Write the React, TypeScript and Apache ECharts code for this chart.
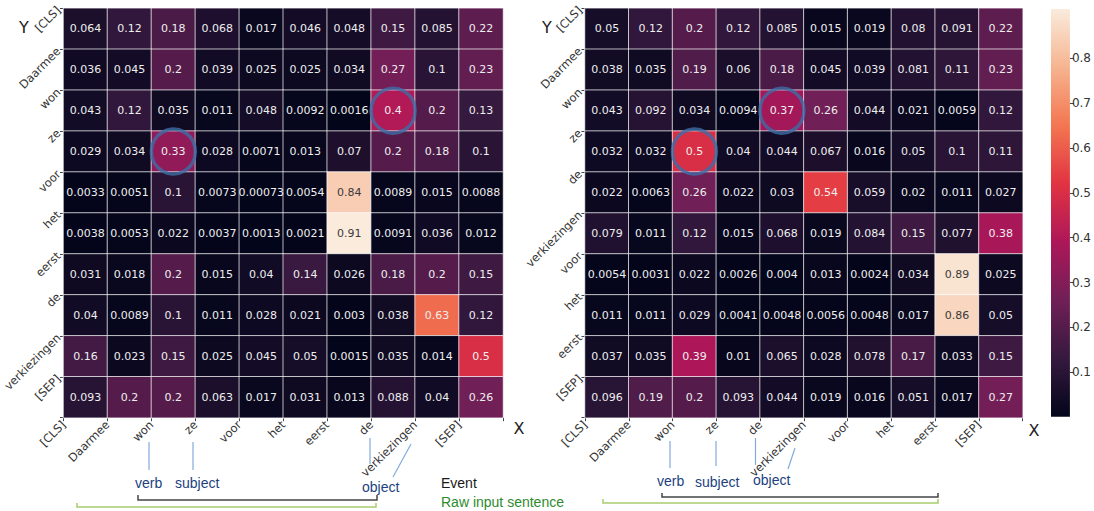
import React, { useEffect, useRef } from "react";
import * as echarts from "echarts";

const LEFT_TOKENS = ["[CLS]", "Daarmee", "won", "ze", "voor", "het", "eerst", "de", "verkiezingen", "[SEP]"];
const RIGHT_TOKENS = ["[CLS]", "Daarmee", "won", "ze", "de", "verkiezingen", "voor", "het", "eerst", "[SEP]"];

const LEFT_VALUES: number[][] = [
  [0.064, 0.12, 0.18, 0.068, 0.017, 0.046, 0.048, 0.15, 0.085, 0.22],
  [0.036, 0.045, 0.2, 0.039, 0.025, 0.025, 0.034, 0.27, 0.1, 0.23],
  [0.043, 0.12, 0.035, 0.011, 0.048, 0.0092, 0.0016, 0.4, 0.2, 0.13],
  [0.029, 0.034, 0.33, 0.028, 0.0071, 0.013, 0.07, 0.2, 0.18, 0.1],
  [0.0033, 0.0051, 0.1, 0.0073, 0.00073, 0.0054, 0.84, 0.0089, 0.015, 0.0088],
  [0.0038, 0.0053, 0.022, 0.0037, 0.0013, 0.0021, 0.91, 0.0091, 0.036, 0.012],
  [0.031, 0.018, 0.2, 0.015, 0.04, 0.14, 0.026, 0.18, 0.2, 0.15],
  [0.04, 0.0089, 0.1, 0.011, 0.028, 0.021, 0.003, 0.038, 0.63, 0.12],
  [0.16, 0.023, 0.15, 0.025, 0.045, 0.05, 0.0015, 0.035, 0.014, 0.5],
  [0.093, 0.2, 0.2, 0.063, 0.017, 0.031, 0.013, 0.088, 0.04, 0.26],
];

const RIGHT_VALUES: number[][] = [
  [0.05, 0.12, 0.2, 0.12, 0.085, 0.015, 0.019, 0.08, 0.091, 0.22],
  [0.038, 0.035, 0.19, 0.06, 0.18, 0.045, 0.039, 0.081, 0.11, 0.23],
  [0.043, 0.092, 0.034, 0.0094, 0.37, 0.26, 0.044, 0.021, 0.0059, 0.12],
  [0.032, 0.032, 0.5, 0.04, 0.044, 0.067, 0.016, 0.05, 0.1, 0.11],
  [0.022, 0.0063, 0.26, 0.022, 0.03, 0.54, 0.059, 0.02, 0.011, 0.027],
  [0.079, 0.011, 0.12, 0.015, 0.068, 0.019, 0.084, 0.15, 0.077, 0.38],
  [0.0054, 0.0031, 0.022, 0.0026, 0.004, 0.013, 0.0024, 0.034, 0.89, 0.025],
  [0.011, 0.011, 0.029, 0.0041, 0.0048, 0.0056, 0.0048, 0.017, 0.86, 0.05],
  [0.037, 0.035, 0.39, 0.01, 0.065, 0.028, 0.078, 0.17, 0.033, 0.15],
  [0.096, 0.19, 0.2, 0.093, 0.044, 0.019, 0.016, 0.051, 0.017, 0.27],
];

// circled cells: [column, row]
const LEFT_CIRCLES = [[7, 2], [2, 3]];
const RIGHT_CIRCLES = [[4, 2], [2, 3]];

const COLORBAR_TICKS = [0.1, 0.2, 0.3, 0.4, 0.5, 0.6, 0.7, 0.8];

const ROCKET = ["#03051A", "#35193E", "#701F57", "#AD1759", "#E13342", "#F37651", "#F6B48F", "#FAEBDD"];

const FONT = "DejaVu Sans";
const SANS = "Liberation Sans, Arial, sans-serif";

const allVals = [...LEFT_VALUES.flat(), ...RIGHT_VALUES.flat()];
const VMIN = Math.min(...allVals);
const VMAX = Math.max(...allVals);

function cells(m: number[][]) {
  const out: any[] = [];
  m.forEach((row, r) =>
    row.forEach((v, c) => {
      out.push({ value: [c, r, v], label: { color: v > 0.75 ? "#3a3a3a" : "#eeeeee" } });
    })
  );
  return out;
}

function labelXAxis(grid: number, tokens: string[]) {
  return {
    type: "category",
    gridIndex: grid,
    data: [...tokens, ""],
    boundaryGap: false,
    position: "bottom",
    axisLine: { show: false },
    axisTick: { show: true, length: 3.5, lineStyle: { color: "#444" } },
    axisLabel: { interval: 0, rotate: 45, fontSize: 11.5, fontFamily: FONT, color: "#333", margin: 5 },
    splitLine: { show: false },
  };
}
function labelYAxis(grid: number, tokens: string[]) {
  return {
    type: "category",
    gridIndex: grid,
    data: [...tokens, ""],
    boundaryGap: false,
    inverse: true,
    position: "left",
    axisLine: { show: false },
    axisTick: { show: true, length: 3.5, lineStyle: { color: "#444" } },
    axisLabel: { interval: 0, rotate: 45, fontSize: 11.5, fontFamily: FONT, color: "#333", margin: 5 },
    splitLine: { show: false },
  };
}

const blue = "#82aadc";
const navy = "#213f7e";

export default function App() {
  const ref = useRef<HTMLDivElement>(null);
  useEffect(() => {
    if (!ref.current) return;
    const chart = echarts.init(ref.current, null, { renderer: "svg" });
    const heatLabel = {
      show: true,
      fontSize: 11,
      fontFamily: FONT,
      formatter: (p: any) => String(p.value[2]),
    };
    const heatItem = { borderColor: "rgba(255,255,255,0.7)", borderWidth: 1 };
    const circleStyle = { color: "rgba(0,0,0,0)", borderColor: "#3d6da5", borderWidth: 3.5 };
    const option: any = {
      animation: false,
      backgroundColor: "#ffffff",
      grid: [
        { left: 62, top: 8.3, width: 441, height: 409.4 },
        { left: 585, top: 8.3, width: 437.7, height: 409.4 },
        { left: 1051, top: 9, width: 20, height: 407.7 },
      ],
      xAxis: [
        { type: "category", gridIndex: 0, data: LEFT_TOKENS, show: false },
        { type: "category", gridIndex: 1, data: RIGHT_TOKENS, show: false },
        labelXAxis(0, LEFT_TOKENS),
        labelXAxis(1, RIGHT_TOKENS),
        { type: "category", gridIndex: 2, data: [""], show: false },
      ],
      yAxis: [
        { type: "category", gridIndex: 0, data: LEFT_TOKENS, inverse: true, show: false },
        { type: "category", gridIndex: 1, data: RIGHT_TOKENS, inverse: true, show: false },
        labelYAxis(0, LEFT_TOKENS),
        labelYAxis(1, RIGHT_TOKENS),
        {
          type: "value",
          gridIndex: 2,
          min: VMIN,
          max: VMAX,
          position: "right",
          axisLine: { show: false },
          splitLine: { show: false },
          axisTick: { show: true, length: 4, customValues: COLORBAR_TICKS, lineStyle: { color: "#444" } },
          axisLabel: {
            customValues: COLORBAR_TICKS,
            formatter: (v: number) => v.toFixed(1),
            fontSize: 12,
            fontFamily: FONT,
            color: "#333",
            margin: 2,
          },
        },
      ],
      visualMap: {
        show: false,
        type: "continuous",
        min: VMIN,
        max: VMAX,
        dimension: 2,
        seriesIndex: [0, 1],
        inRange: { color: ROCKET },
      },
      series: [
        {
          type: "heatmap",
          xAxisIndex: 0,
          yAxisIndex: 0,
          data: cells(LEFT_VALUES),
          label: heatLabel,
          itemStyle: heatItem,
          emphasis: { disabled: true },
        },
        {
          type: "heatmap",
          xAxisIndex: 1,
          yAxisIndex: 1,
          data: cells(RIGHT_VALUES),
          label: heatLabel,
          itemStyle: heatItem,
          emphasis: { disabled: true },
        },
        {
          type: "scatter",
          xAxisIndex: 0,
          yAxisIndex: 0,
          data: LEFT_CIRCLES,
          symbol: "circle",
          symbolSize: [44, 45],
          itemStyle: circleStyle,
          silent: true,
          z: 5,
        },
        {
          type: "scatter",
          xAxisIndex: 1,
          yAxisIndex: 1,
          data: RIGHT_CIRCLES,
          symbol: "circle",
          symbolSize: [44, 45],
          itemStyle: circleStyle,
          silent: true,
          z: 5,
        },
        {
          type: "custom",
          xAxisIndex: 4,
          yAxisIndex: 4,
          data: [[0, VMAX]],
          silent: true,
          renderItem: (_params: any, api: any) => {
            const top = api.coord([0, VMAX]);
            const bot = api.coord([0, VMIN]);
            const w = api.size([1, 0])[0];
            return {
              type: "rect",
              shape: { x: top[0] - w / 2, y: top[1], width: w, height: bot[1] - top[1] },
              style: {
                fill: new echarts.graphic.LinearGradient(
                  0, 1, 0, 0,
                  ROCKET.map((c, i) => ({ offset: i / (ROCKET.length - 1), color: c }))
                ),
              },
            };
          },
        },
      ],
      graphic: [
        { type: "text", x: 24, y: 27, style: { text: "Y", font: `16px ${FONT}`, fill: "#222", align: "center", verticalAlign: "middle" } },
        { type: "text", x: 547, y: 27, style: { text: "Y", font: `16px ${FONT}`, fill: "#222", align: "center", verticalAlign: "middle" } },
        { type: "text", x: 519, y: 428, style: { text: "X", font: `16px ${FONT}`, fill: "#222", align: "center", verticalAlign: "middle" } },
        { type: "text", x: 1034, y: 430, style: { text: "X", font: `16px ${FONT}`, fill: "#222", align: "center", verticalAlign: "middle" } },
        // left pointer lines
        { type: "line", shape: { x1: 149, y1: 442, x2: 149, y2: 470 }, style: { stroke: blue, lineWidth: 1.2 } },
        { type: "line", shape: { x1: 193, y1: 442, x2: 193, y2: 470 }, style: { stroke: blue, lineWidth: 1.2 } },
        { type: "line", shape: { x1: 370, y1: 438, x2: 370, y2: 464 }, style: { stroke: blue, lineWidth: 1.2 } },
        { type: "line", shape: { x1: 411, y1: 444, x2: 393, y2: 477 }, style: { stroke: blue, lineWidth: 1.2 } },
        // right pointer lines
        { type: "line", shape: { x1: 670, y1: 441, x2: 670, y2: 468 }, style: { stroke: blue, lineWidth: 1.2 } },
        { type: "line", shape: { x1: 716, y1: 441, x2: 716, y2: 466 }, style: { stroke: blue, lineWidth: 1.2 } },
        { type: "line", shape: { x1: 755.5, y1: 438, x2: 755.5, y2: 465 }, style: { stroke: blue, lineWidth: 1.2 } },
        { type: "line", shape: { x1: 795, y1: 448, x2: 788, y2: 469 }, style: { stroke: blue, lineWidth: 1.2 } },
        // left texts
        { type: "text", x: 135, y: 483, style: { text: "verb", font: `14px ${SANS}`, fill: navy, verticalAlign: "middle" } },
        { type: "text", x: 175, y: 483, style: { text: "subject", font: `14px ${SANS}`, fill: navy, verticalAlign: "middle" } },
        { type: "text", x: 362, y: 487, style: { text: "object", font: `14px ${SANS}`, fill: navy, verticalAlign: "middle" } },
        { type: "text", x: 441, y: 483, style: { text: "Event", font: `14px ${SANS}`, fill: "#1a1a1a", verticalAlign: "middle" } },
        { type: "text", x: 441, y: 502, style: { text: "Raw input sentence", font: `14px ${SANS}`, fill: "#2e8b2e", verticalAlign: "middle" } },
        // right texts
        { type: "text", x: 657, y: 481, style: { text: "verb", font: `14px ${SANS}`, fill: navy, verticalAlign: "middle" } },
        { type: "text", x: 695, y: 482, style: { text: "subject", font: `14px ${SANS}`, fill: navy, verticalAlign: "middle" } },
        { type: "text", x: 753, y: 480, style: { text: "object", font: `14px ${SANS}`, fill: navy, verticalAlign: "middle" } },
        // brackets
        { type: "polyline", shape: { points: [[138, 495], [138, 500], [377, 500], [377, 495]] }, style: { stroke: "#444", lineWidth: 1.5, fill: "none" } },
        { type: "polyline", shape: { points: [[77, 503], [77, 507], [376, 507], [376, 503]] }, style: { stroke: "#a6cc6e", lineWidth: 1.5, fill: "none" } },
        { type: "polyline", shape: { points: [[662, 493], [662, 497], [938, 497], [938, 493]] }, style: { stroke: "#444", lineWidth: 1.5, fill: "none" } },
        { type: "polyline", shape: { points: [[603, 499], [603, 503], [938, 503], [938, 499]] }, style: { stroke: "#a6cc6e", lineWidth: 1.5, fill: "none" } },
      ],
    };
    chart.setOption(option);
    return () => chart.dispose();
  }, []);
  return (
    <div
      ref={ref}
      style={{ position: "absolute", left: 0, top: 0, width: 1094, height: 511, background: "#fff" }}
    />
  );
}
